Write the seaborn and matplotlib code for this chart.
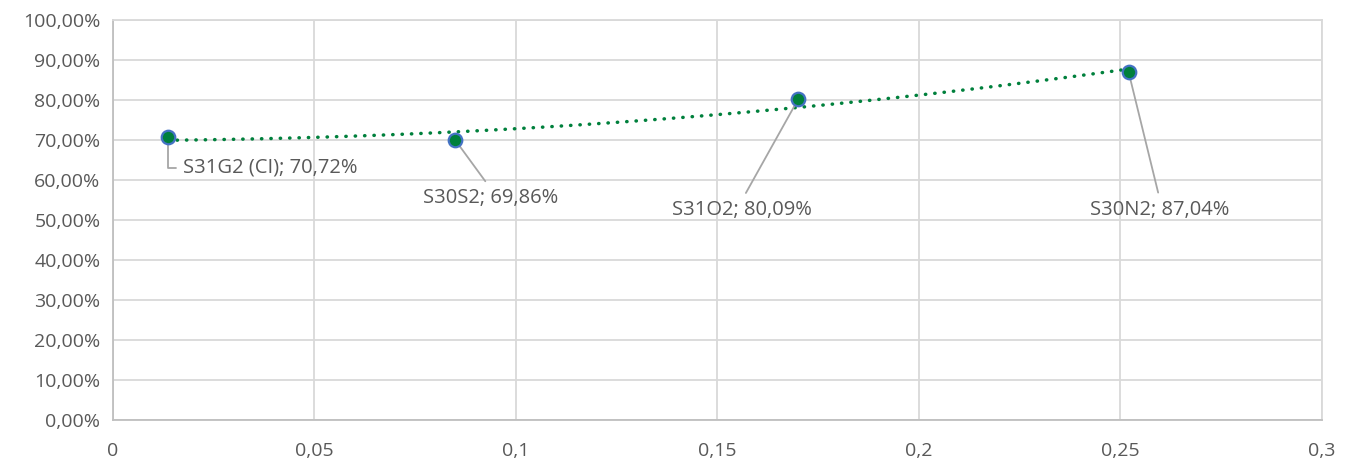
import matplotlib
matplotlib.use("Agg")
import matplotlib.pyplot as plt
from matplotlib.ticker import FuncFormatter, MultipleLocator
import numpy as np
import pandas as pd
import seaborn as sns

# data
labels = ["S31G2 (CI)", "S30S2", "S31O2", "S30N2"]
x_vals = [0.0136, 0.085, 0.17, 0.252]
y_vals = [70.72, 69.86, 80.09, 87.04]
# label text anchor (data coords) for each point
text_x = [0.0174, 0.0936, 0.1561, 0.2598]
text_y = [63.0, 55.5, 52.5, 52.5]

df = pd.DataFrame({"x": x_vals, "y": y_vals, "label": labels})

sns.set_theme(style="whitegrid")
plt.rcParams["font.family"] = ["Open Sans", "DejaVu Sans"]

GRID = "#D9D9D9"
TXT = "#595959"
GREEN = "#00803C"

fig, ax = plt.subplots(figsize=(13.51, 4.61), dpi=100)
fig.subplots_adjust(left=0.0836, right=0.9785, top=0.957, bottom=0.089)

sns.regplot(data=df, x="x", y="y", order=2, ci=None, scatter=False, truncate=True,
            line_kws=dict(color=GREEN, linestyle=(0, (0.1, 2.6)), linewidth=2.5,
                          dash_capstyle="round"), ax=ax)
sns.scatterplot(data=df, x="x", y="y", s=95, color=GREEN, edgecolor="#4472C4",
                linewidth=1.6, zorder=5, ax=ax)

for i, lab in enumerate(labels):
    txt = f"{lab}; {y_vals[i]:.2f}%".replace(".", ",")
    if i == 0:
        ax.annotate(txt, xy=(x_vals[i], y_vals[i]), xytext=(text_x[i], text_y[i]),
                    ha="left", va="center", fontsize=14.5, color=TXT,
                    arrowprops=dict(arrowstyle="-", color="#A6A6A6", lw=1.3,
                                    connectionstyle="angle,angleA=0,angleB=90,rad=0",
                                    shrinkA=3, shrinkB=0))
    else:
        ax.annotate(txt, xy=(x_vals[i], y_vals[i]), xytext=(text_x[i], text_y[i]),
                    ha="center", va="center", fontsize=14.5, color=TXT,
                    arrowprops=dict(arrowstyle="-", color="#A6A6A6", lw=1.3,
                                    relpos=(0.5, 1.0), shrinkA=3, shrinkB=0))

ax.set_xlim(0, 0.3)
ax.set_ylim(0, 100)
ax.xaxis.set_major_locator(MultipleLocator(0.05))
ax.yaxis.set_major_locator(MultipleLocator(10))
ax.xaxis.set_major_formatter(FuncFormatter(lambda v, p: f"{v:g}".replace(".", ",")))
ax.yaxis.set_major_formatter(FuncFormatter(lambda v, p: f"{v:.2f}%".replace(".", ",")))
ax.tick_params(axis="both", labelsize=14, colors=TXT, length=0)
ax.tick_params(axis="y", pad=9)
ax.tick_params(axis="x", pad=16)
ax.grid(True, color=GRID, linewidth=1.3)
for s in ax.spines.values():
    s.set_color(GRID)
    s.set_linewidth(1.3)
ax.spines["left"].set_color("#BFBFBF")
ax.spines["bottom"].set_color("#BFBFBF")
ax.set_xlabel("")
ax.set_ylabel("")

fig.savefig("out.png", dpi=100)
